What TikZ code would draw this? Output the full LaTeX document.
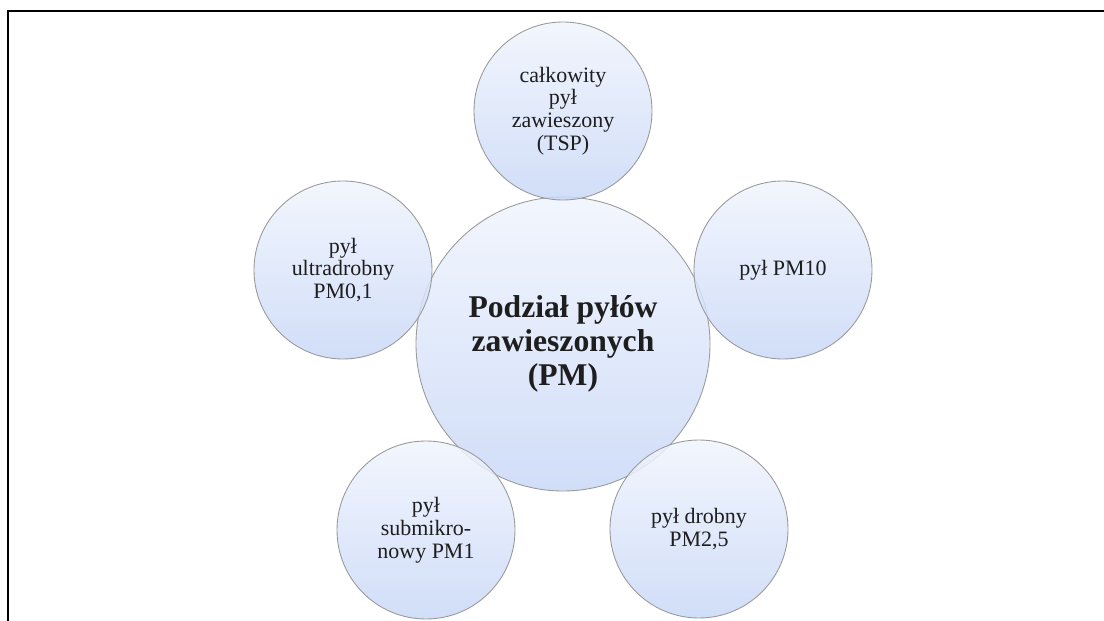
\documentclass[tikz,border=0pt]{standalone}
\usepackage{fontspec}
\setmainfont{Liberation Serif}
\usepackage{tikz}
\definecolor{bubbletop}{HTML}{F0F4FD}
\definecolor{bubblebot}{HTML}{C9D8F7}
\definecolor{bubbleline}{HTML}{9A9A9A}
\definecolor{bubbletext}{HTML}{1E1E1E}
\tikzset{
  bubble/.style={circle, draw=bubbleline, line width=0.5pt, top color=bubbletop,
    bottom color=bubblebot, fill opacity=0.85, text opacity=1, text=bubbletext,
    align=center, inner sep=0pt, minimum size=3.56cm,
    font=\fontsize{12.5}{13}\selectfont},
  hub/.style={bubble, minimum size=5.88cm, font=\fontsize{18}{19.5}\selectfont\bfseries}
}

\begin{document}
\begin{tikzpicture}
\useasboundingbox (0, 0) rectangle (22.08, -12.42);
\draw[line width=1.1pt] (0.16, -12.5) -- (0.16, -0.22) -- (22.2, -0.22);
\node at (11.26, -6.88) (PM) [hub] {Podział pyłów\\zawieszonych\\(PM)};
\node at (11.26, -2.22) (TSP) [bubble] {całkowity\\pył\\zawieszony\\(TSP)};
\node at (15.66, -5.40) (PMten) [bubble] {pył PM10};
\node at (13.98, -10.58) (PMfine) [bubble] {pył drobny\\PM2,5};
\node at (8.52, -10.60) (PMone) [bubble] {pył\\submikro-\\nowy PM1};
\node at (6.86, -5.40) (PMultra) [bubble] {pył\\ultradrobny\\PM0,1};
\end{tikzpicture}
\end{document}
